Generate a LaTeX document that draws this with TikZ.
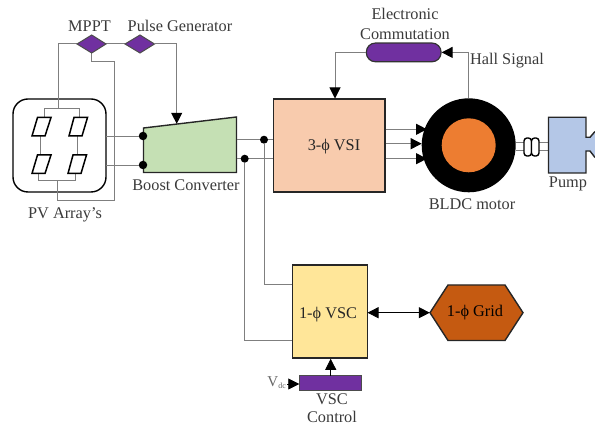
\documentclass[tikz,border=0pt]{standalone}
\usepackage{fontspec}
\setmainfont{Liberation Serif}
\usetikzlibrary{arrows.meta}
\definecolor{wire}{HTML}{7F7F7F}
\definecolor{ink}{HTML}{3A3A3A}
\definecolor{purp}{HTML}{7030A0}
\definecolor{boost}{HTML}{C5E0B4}
\definecolor{vsi}{HTML}{F8CBAD}
\definecolor{vsc}{HTML}{FFE699}
\definecolor{grid}{HTML}{C55A11}
\definecolor{rotor}{HTML}{ED7D31}
\definecolor{pump}{HTML}{B4C7E7}
\tikzset{
  x=1pt,y=-1pt,
  block/.style={draw=black!85,line width=1.4pt,line join=miter},
  wireline/.style={draw=wire,line width=1pt},
  arr/.style={wireline,-{Triangle[length=11pt,width=11pt,fill=black,color=black]}},
  thin arr/.style={draw=black,line width=0.8pt,-{Triangle[length=11pt,width=11pt,fill=black,color=black]}},
  lab/.style={font=\fontsize{16.3}{18}\selectfont,text=ink,inner sep=0pt},
  lab dark/.style={font=\fontsize{16.3}{18}\selectfont,text=black!85,inner sep=0pt},
  panel/.style={draw=black,line width=1.5pt,fill=white},
  junction/.style={circle,fill=black,inner sep=0pt,minimum size=8.5pt},
  coord/.style={inner sep=0pt,minimum size=0pt}
}
\begin{document}
\begin{tikzpicture}
\useasboundingbox (0,0) rectangle (595,427);
% wires first
\coordinate (mpptL) at (77,44);
\coordinate (mpptR) at (106,44);
\coordinate (mpptB) at (91.7,53);
\coordinate (pgL) at (125,44);
\coordinate (pgR) at (154.5,44);
% PV box
\node[block,draw=black,fill=white,rounded corners=15pt,minimum width=93pt,minimum height=93pt,inner sep=0pt] (pv) at (59.5,145.5) {};
% panels
\draw[wireline,line width=.9pt] (44,117.5)--(44,108.5)--(79,108.5)--(79,117.5);
\draw[wireline,line width=.9pt] (40.7,136)--(40.7,155);
\draw[wireline,line width=.9pt] (77,136)--(77,155);
\draw[wireline,line width=.9pt] (38,173.5)--(38,180.3)--(75,180.3)--(75,173.5);
\draw[panel] (32,136)--(37.5,117.5)--(51,117.5)--(45,136)--cycle;
\draw[panel] (69,136)--(74,117.5)--(87.5,117.5)--(82,136)--cycle;
\draw[panel] (32,173.5)--(37.5,155)--(51,155)--(45,173.5)--cycle;
\draw[panel] (68,173.5)--(73,155)--(86.5,155)--(81,173.5)--cycle;
% diamonds
\node[coord] (mppt) at (91.7,44) {};
\node[coord] (pg) at (140,44) {};
\draw[wireline] (58.5,108.5)--(58.5,44)--(mpptL);
\draw[wireline] (mpptR)--(pgL);
\draw[wireline] (mpptB)--(91.7,61.7)--(114.7,61.7)--(114.7,201)--(57.7,201)--(57.7,180.3);
\draw[block,fill=purp,line width=1pt,draw=black!70] (mpptL)--(91.7,35)--(mpptR)--(mpptB)--cycle;
\draw[block,fill=purp,line width=1pt,draw=black!70] (pgL)--(140,35)--(pgR)--(140,53)--cycle;
\node[lab] (mpptlab) at (89.5,26) {MPPT};
\node[lab] (pglab) at (180,26) {Pulse Generator};
% boost
\node[coord] (boostTop) at (176.7,124) {};
\draw[block,fill=boost] (143.5,128)--(236.5,117)--(236.5,172.5)--(143.5,172.5)--cycle;
\draw[arr] (pgR)--(176.7,44)--(boostTop);
\node[lab] (boostlab) at (186,185) {Boost Converter};
\node[lab] (pvlab) at (65,215) {PV Array’s};
\node[junction] (j1) at (143,136) {};
\node[junction] (j2) at (143,165) {};
\draw[wireline,line width=.9pt] (106,136)--(j1);
\draw[wireline,line width=.9pt] (106,165)--(j2);
% VSI
\node[block,fill=vsi,minimum width=111.5pt,minimum height=93pt,inner sep=0pt] (vsi) at (329.3,145.5) {};
\node[lab dark] at (334,147) {3-ϕ VSI};
\draw[wireline] (236.5,139.7)--(273,139.7);
\draw[wireline] (236.5,158.7)--(273,158.7);
\node[junction,minimum size=8pt] (j3) at (264,139.7) {};
\node[junction,minimum size=8pt] (j4) at (244.7,158.7) {};
% VSC
\node[block,fill=vsc,minimum width=75pt,minimum height=93pt,inner sep=0pt] (vscb) at (329.8,311.7) {};
\node[lab dark] at (328,315) {1-ϕ VSC};
\draw[wireline] (j3)--(264,285)--(292,285);
\draw[wireline] (j4)--(244.7,340.7)--(292,340.7);
% grid
\draw[block,fill=grid] (430,312.7)--(448,285)--(505,285)--(523,312.7)--(505,340.5)--(448,340.5)--cycle;
\node[coord] (gridL) at (430,312.7) {};
\node[lab dark,text=black] at (475,313) {1-ϕ Grid};
\draw[draw=black,line width=.8pt,{Triangle[length=11pt,width=11pt]}-{Triangle[length=11pt,width=11pt]}] (367.5,312.7)--(gridL);
% VSC control
\node[block,fill=purp,line width=1pt,draw=black!70,minimum width=62.7pt,minimum height=14.6pt,inner sep=0pt] (ctl) at (330.6,383) {};
\draw[thin arr] (330.7,375.7)--(330.7,358.8);
\coordinate (vdcS) at (287,384);
\draw[thin arr] (vdcS)--(299.3,384);
\node[lab,anchor=east,font=\fontsize{15}{16}\selectfont,text=black!60] at (286,383) {V\raisebox{-2pt}{\fontsize{8}{9}\selectfont dc}};
\node[lab] at (332,399.5) {VSC};
\node[lab] at (332,416.5) {Control};
% motor
\node[circle,fill=black,minimum size=94pt,inner sep=0pt] (motor) at (468.7,145.3) {};
\node[circle,fill=rotor,minimum size=54pt,inner sep=0pt] (rot) at (468.7,145.3) {};
\draw[thin arr,draw=wire,line width=1pt] (385.5,129.3)--(427,129.3);
\draw[thin arr,draw=wire,line width=1pt] (385.5,143.7)--(421.7,143.7);
\draw[thin arr,draw=wire,line width=1pt] (385.5,158.7)--(427,158.7);
\node[lab] at (472,204) {BLDC motor};
% commutation
\node[draw=black!80,line width=1.2pt,fill=purp,rounded corners=9pt,minimum width=74.7pt,minimum height=18.7pt,inner sep=0pt] (comm) at (403.7,52.4) {};
\node[lab] at (405,14) {Electronic};
\node[lab] at (405,34) {Commutation};
\draw[arr] (comm.west)--(335,52.4)--(335,98.5);
\draw[arr] (motor.north)--(468.7,52.4)--(comm.east);
\node[lab] at (507,61) {Hall Signal};
% shaft
\draw[wireline,line width=.8pt] (516,142.3)--(549,142.3);
\draw[wireline,line width=.8pt] (516,150)--(549,150);
\draw[draw=black,line width=1.4pt,fill=white,rounded corners=3pt] (524,138) rectangle (531.5,156);
\draw[draw=black,line width=1.4pt,fill=white,rounded corners=3pt] (531.5,138) rectangle (539,156);
% pump
\fill[pump] (548.5,117.3) rectangle (586,173);
\fill[pump] (586,137.3)--(590,137.3)--(595,131.5)--(595,157.5)--(590,151)--(586,151)--cycle;
\draw[block] (595,131.5)--(590,137.3)--(586,137.3)--(586,117.3)--(548.5,117.3)--(548.5,173)--(586,173)--(586,151)--(590,151)--(595,157.5);
\node[lab] at (568,184) {Pump};
\end{tikzpicture}
\end{document}
